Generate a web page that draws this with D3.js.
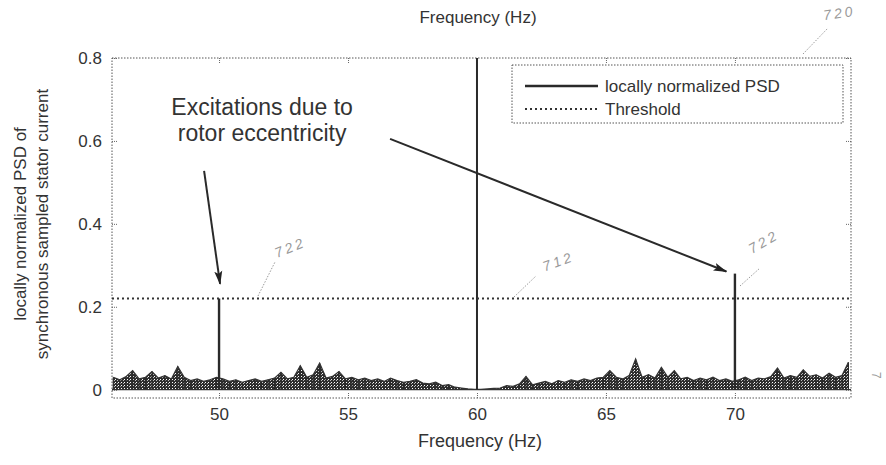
<!DOCTYPE html>
<html>
<head>
<meta charset="utf-8">
<script src="https://cdn.jsdelivr.net/npm/d3@7"></script>
<style>
  body { margin: 0; background: #fff; }
  svg { display: block; font-family: "Liberation Sans", Arial, sans-serif; }
</style>
</head>
<body>
<svg width="886" height="465"></svg>
<script>
// spectrum noise floor (start 45.9 Hz, 0.25 Hz apart)
const noiseStart = 45.9;
const noiseStep = 0.25;
const noiseValues = [
  0.030, 0.024, 0.032, 0.046, 0.026, 0.030, 0.044, 0.028, 0.034, 0.026,
  0.056, 0.030, 0.022, 0.026, 0.020, 0.024, 0.030, 0.026, 0.020, 0.024,
  0.018, 0.022, 0.026, 0.020, 0.024, 0.028, 0.042, 0.026, 0.030, 0.058,
  0.030, 0.036, 0.064, 0.028, 0.032, 0.044, 0.026, 0.030, 0.024, 0.028,
  0.022, 0.026, 0.020, 0.028, 0.022, 0.018, 0.020, 0.024, 0.016, 0.014,
  0.018, 0.010, 0.012, 0.006, 0.004, 0.002, 0.001, 0.001, 0.002, 0.003,
  0.004, 0.010, 0.008, 0.014, 0.032, 0.012, 0.016, 0.020, 0.014, 0.022,
  0.018, 0.024, 0.020, 0.026, 0.022, 0.028, 0.030, 0.046, 0.030, 0.026,
  0.034, 0.074, 0.030, 0.036, 0.028, 0.054, 0.030, 0.046, 0.026, 0.030,
  0.022, 0.028, 0.024, 0.030, 0.022, 0.026, 0.020, 0.024, 0.030, 0.022,
  0.028, 0.026, 0.032, 0.052, 0.028, 0.034, 0.030, 0.048, 0.032, 0.036,
  0.028, 0.040, 0.030, 0.034, 0.066
];

// the three lines standing out of the noise
const peakFreqs = [50, 60, 70];
const peakValues = [0.22, 0.9, 0.28];

const threshold = 0.22;

const xTicks = [50, 55, 60, 65, 70];
const yTicks = [0, 0.2, 0.4, 0.6, 0.8];
const yTickLabels = ["0", "0.2", "0.4", "0.6", "0.8"];

const legendLabels = ["locally normalized PSD", "Threshold"];
const annotationLines = ["Excitations due to", "rotor eccentricity"];
// arrows in data units: [f0, v0, f1, v1]
const arrows = [
  [49.42, 0.528, 50.04, 0.255],
  [56.63, 0.605, 69.67, 0.285]
];

const svg = d3.select("svg");
const pLeft = 112, pRight = 851, pTop = 58, pBottom = 398;
const ink = "#333";

const x = d3.scaleLinear().domain([45.85, 74.5]).range([pLeft, pRight]);
const y = d3.scaleLinear().domain([-0.02, 0.8]).range([pBottom, pTop]);

// halftone looking fill like the scanned figure
const defs = svg.append("defs");
const pat = defs.append("pattern")
    .attr("id", "grain")
    .attr("patternUnits", "userSpaceOnUse")
    .attr("width", 3).attr("height", 3);
pat.append("rect").attr("width", 3).attr("height", 3).attr("fill", "#2e2e2e");
pat.append("rect").attr("x", 1).attr("y", 1).attr("width", 1).attr("height", 1).attr("fill", "#fff");
pat.append("rect").attr("x", 0).attr("y", 2).attr("width", 1).attr("height", 1).attr("fill", "#bbb");

defs.append("clipPath").attr("id", "plotclip")
  .append("rect")
    .attr("x", pLeft).attr("y", pTop)
    .attr("width", pRight - pLeft).attr("height", pBottom - pTop);

defs.append("marker")
    .attr("id", "head")
    .attr("viewBox", "0 0 14 10")
    .attr("refX", 13).attr("refY", 5)
    .attr("markerWidth", 7).attr("markerHeight", 5)
    .attr("orient", "auto")
  .append("path")
    .attr("d", "M0,1 L14,5 L0,9 L3,5 Z")
    .attr("fill", "#222");

// frame (dotted)
svg.append("rect")
    .attr("x", pLeft).attr("y", pTop)
    .attr("width", pRight - pLeft).attr("height", pBottom - pTop)
    .attr("fill", "none")
    .attr("stroke", "#555")
    .attr("stroke-width", 1)
    .attr("stroke-dasharray", "1.5,1.5");

// ticks, inward on all four sides
const tickLen = 5;
const xAxisB = d3.axisBottom(x).tickValues(xTicks).tickSizeInner(-tickLen).tickSizeOuter(0).tickPadding(10);
const xAxisT = d3.axisTop(x).tickValues(xTicks).tickSizeInner(-tickLen).tickSizeOuter(0).tickFormat("");
const yAxisL = d3.axisLeft(y).tickValues(yTicks).tickSizeInner(-tickLen).tickSizeOuter(0).tickPadding(10)
    .tickFormat((d, i) => yTickLabels[i]);
const yAxisR = d3.axisRight(y).tickValues(yTicks).tickSizeInner(-tickLen).tickSizeOuter(0).tickFormat("");

function styleAxis(g) {
  g.select(".domain").remove();
  g.selectAll("line").attr("stroke", "#666").attr("stroke-dasharray", "1,1");
  g.selectAll("text")
    .attr("fill", ink)
    .style("font-size", "17px")
    .style("font-family", "'Liberation Sans', Arial, sans-serif");
}
svg.append("g").attr("transform", `translate(0,${pBottom})`).call(xAxisB).call(styleAxis);
svg.append("g").attr("transform", `translate(0,${pTop})`).call(xAxisT).call(styleAxis);
svg.append("g").attr("transform", `translate(${pLeft},0)`).call(yAxisL).call(styleAxis);
svg.append("g").attr("transform", `translate(${pRight},0)`).call(yAxisR).call(styleAxis);

const plot = svg.append("g").attr("clip-path", "url(#plotclip)");

// noise floor
const noise = noiseValues.map((v, i) => ({ f: noiseStart + i * noiseStep, v: v }));
plot.append("path")
    .datum(noise)
    .attr("d", d3.area().x(d => x(d.f)).y0(y(0)).y1(d => y(d.v)))
    .attr("fill", "url(#grain)");
plot.selectAll(".stem")
  .data(noise)
  .enter().append("line")
    .attr("class", "stem")
    .attr("x1", d => x(d.f)).attr("x2", d => x(d.f))
    .attr("y1", y(0)).attr("y2", d => y(d.v))
    .attr("stroke", "#2a2a2a")
    .attr("stroke-width", 1.2);
plot.append("path")
    .datum(noise)
    .attr("d", d3.line().x(d => x(d.f)).y(d => y(d.v)))
    .attr("fill", "none")
    .attr("stroke", "#333")
    .attr("stroke-width", 1.2);
plot.append("line")
    .attr("x1", x(45.85)).attr("x2", x(74.5))
    .attr("y1", y(0)).attr("y2", y(0))
    .attr("stroke", "#333").attr("stroke-width", 1.2);

// peaks
plot.selectAll(".peak")
  .data(peakFreqs.map((f, i) => ({ f: f, v: peakValues[i] })))
  .enter().append("line")
    .attr("class", "peak")
    .attr("x1", d => x(d.f)).attr("x2", d => x(d.f))
    .attr("y1", y(0)).attr("y2", d => y(d.v))
    .attr("stroke", "#2a2a2a")
    .attr("stroke-width", (d, i) => i === 1 ? 2 : 2.4);

// threshold
plot.append("line")
    .attr("x1", pLeft).attr("x2", pRight)
    .attr("y1", y(threshold)).attr("y2", y(threshold))
    .attr("stroke", "#333")
    .attr("stroke-width", 2)
    .attr("stroke-dasharray", "2,3");

// legend
const lg = svg.append("g");
lg.append("rect")
    .attr("x", 512).attr("y", 65).attr("width", 331).attr("height", 58)
    .attr("fill", "#fff")
    .attr("stroke", "#555")
    .attr("stroke-dasharray", "1.5,1.5");
lg.append("line")
    .attr("x1", 525).attr("x2", 598).attr("y1", 86).attr("y2", 86)
    .attr("stroke", "#2a2a2a").attr("stroke-width", 2.4);
lg.append("line")
    .attr("x1", 525).attr("x2", 598).attr("y1", 109).attr("y2", 109)
    .attr("stroke", "#333").attr("stroke-width", 2).attr("stroke-dasharray", "2,3");
lg.selectAll("text")
  .data(legendLabels)
  .enter().append("text")
    .attr("x", 605)
    .attr("y", (d, i) => 92 + i * 23)
    .attr("fill", ink)
    .style("font-size", "17px")
    .text(d => d);

// annotation
svg.selectAll(".note")
  .data(annotationLines)
  .enter().append("text")
    .attr("class", "note")
    .attr("x", x(51.67))
    .attr("y", (d, i) => y(0.663) + i * 26)
    .attr("text-anchor", "middle")
    .attr("fill", ink)
    .style("font-size", "23px")
    .text(d => d);

svg.selectAll(".arrow")
  .data(arrows)
  .enter().append("line")
    .attr("class", "arrow")
    .attr("x1", d => x(d[0])).attr("y1", d => y(d[1]))
    .attr("x2", d => x(d[2])).attr("y2", d => y(d[3]))
    .attr("stroke", "#2a2a2a")
    .attr("stroke-width", 2)
    .attr("marker-end", "url(#head)");

// titles
svg.append("text")
    .attr("x", 478).attr("y", 23)
    .attr("text-anchor", "middle")
    .attr("fill", ink)
    .style("font-size", "17px")
    .text("Frequency (Hz)");
svg.append("text")
    .attr("x", 480).attr("y", 447)
    .attr("text-anchor", "middle")
    .attr("fill", ink)
    .style("font-size", "18px")
    .text("Frequency (Hz)");
const yl = svg.append("text")
    .attr("transform", "translate(26,224) rotate(-90)")
    .attr("text-anchor", "middle")
    .attr("fill", ink)
    .style("font-size", "17px");
yl.append("tspan").attr("x", 0).attr("dy", 0).text("locally normalized PSD of");
yl.append("tspan").attr("x", 0).attr("dy", 22).text("synchronous sampled stator current");

// faint hand-written reference numerals of the patent figure
const hand = "#9a9a9a";
const refs = [
  { t: "720", x: 840, y: 18, r: -8, lead: [803, 54, 828, 28] },
  { t: "722", x: 292, y: 252, r: -22, lead: [258, 296, 275, 262] },
  { t: "712", x: 560, y: 266, r: -20, lead: [514, 297, 536, 276] },
  { t: "722", x: 766, y: 246, r: -30, lead: [740, 286, 760, 268] }
];
refs.forEach(d => {
  svg.append("text")
      .attr("transform", `translate(${d.x},${d.y}) rotate(${d.r})`)
      .attr("text-anchor", "middle")
      .attr("fill", hand)
      .style("font-size", "14px")
      .style("font-style", "italic")
      .style("letter-spacing", "3px")
      .text(d.t);
  svg.append("line")
      .attr("x1", d.lead[0]).attr("y1", d.lead[1])
      .attr("x2", d.lead[2]).attr("y2", d.lead[3])
      .attr("stroke", hand)
      .attr("stroke-width", 1)
      .attr("stroke-dasharray", "1.5,1.5");
});
svg.append("text")
    .attr("transform", "translate(872,372) rotate(90)")
    .attr("fill", hand)
    .style("font-size", "12px")
    .text("7");
</script>
</body>
</html>
